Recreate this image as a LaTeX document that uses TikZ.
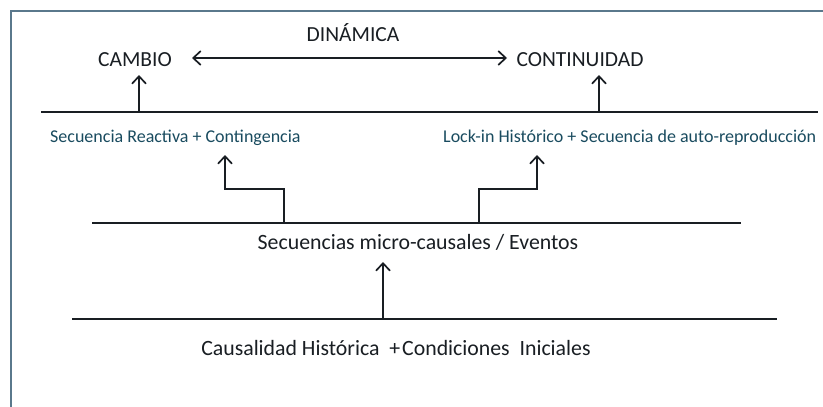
\documentclass[tikz,border=0pt]{standalone}
\usepackage{fontspec}
\setmainfont{Carlito}
\usetikzlibrary{arrows.meta}
\definecolor{frameblue}{RGB}{90,120,140}
\definecolor{tealtxt}{RGB}{25,75,95}
\definecolor{ink}{RGB}{25,30,35}
\tikzset{
  bigtxt/.style={font=\fontsize{21.5}{24}\selectfont, text=ink, inner sep=0pt},
  midtxt/.style={font=\fontsize{21.8}{24}\selectfont, text=ink, inner sep=0pt},
  subtxt/.style={font=\fontsize{18}{20}\selectfont, text=tealtxt, inner sep=0pt},
  level/.style={draw=ink, line width=2.6pt},
  tip/.style={-{Straight Barb[length=7.5pt,width=14pt,line width=1.7pt]}},
  arr/.style={draw=ink, line width=1.8pt, tip},
  darr/.style={draw=ink, line width=1.8pt, {Straight Barb[length=7.5pt,width=14pt,line width=1.7pt]}-{Straight Barb[length=7.5pt,width=14pt,line width=1.7pt]}}
}
\begin{document}
\begin{tikzpicture}[x=1pt,y=-1pt]
\useasboundingbox (0,0) rectangle (823,407);
\fill[white] (0,0) rectangle (823,407);
% frame
\draw[frameblue, line width=1.6pt] (11,407) -- (11,11) -- (823,11);
% texts
\node[bigtxt] (din) at (353,33) {DINÁMICA};
\node[bigtxt] (cam) at (135,60) {CAMBIO};
\node[bigtxt] (con) at (580,60) {CONTINUIDAD};
\node[subtxt, anchor=west] (sra) at (50,138) {Secuencia Reactiva + Contingencia};
\node[subtxt, anchor=west] (lock) at (443,138) {Lock-in Histórico + Secuencia de auto-reproducción};
\node[midtxt] (mic) at (418,242) {Secuencias micro-causales / Eventos};
\node[midtxt] (cau) at (396,348) {Causalidad Histórica\ \ +\kern2pt Condiciones\ \ Iniciales};
% level lines
\coordinate (t1) at (41,112); \coordinate (t2) at (818,112);
\coordinate (m1) at (92,223); \coordinate (m2) at (741,223);
\coordinate (b1) at (72,319); \coordinate (b2) at (777,319);
\draw[level] (t1) -- (t2);
\draw[level] (m1) -- (m2);
\draw[level] (b1) -- (b2);
% dynamic double arrow
\coordinate (dl) at (192,58); \coordinate (dr) at (507,58);
\draw[darr] (dl) -- (dr);
% arrows from top line
\coordinate (ca0) at (139,111); \coordinate (ca1) at (139,75);
\coordinate (co0) at (599,111); \coordinate (co1) at (599,75);
\draw[arr] (ca0) -- (ca1);
\draw[arr] (co0) -- (co1);
% step arrows
\coordinate (sl0) at (284,222); \coordinate (sl1) at (284,189); \coordinate (sl2) at (225,189); \coordinate (sl3) at (225,155);
\draw[arr] (sl0) -- (sl1) -- (sl2) -- (sl3);
\coordinate (sr0) at (479,222); \coordinate (sr1) at (479,189); \coordinate (sr2) at (537,189); \coordinate (sr3) at (537,155);
\draw[arr] (sr0) -- (sr1) -- (sr2) -- (sr3);
% middle arrow
\coordinate (mu0) at (383,318); \coordinate (mu1) at (383,262);
\draw[arr] (mu0) -- (mu1);
\end{tikzpicture}
\end{document}
